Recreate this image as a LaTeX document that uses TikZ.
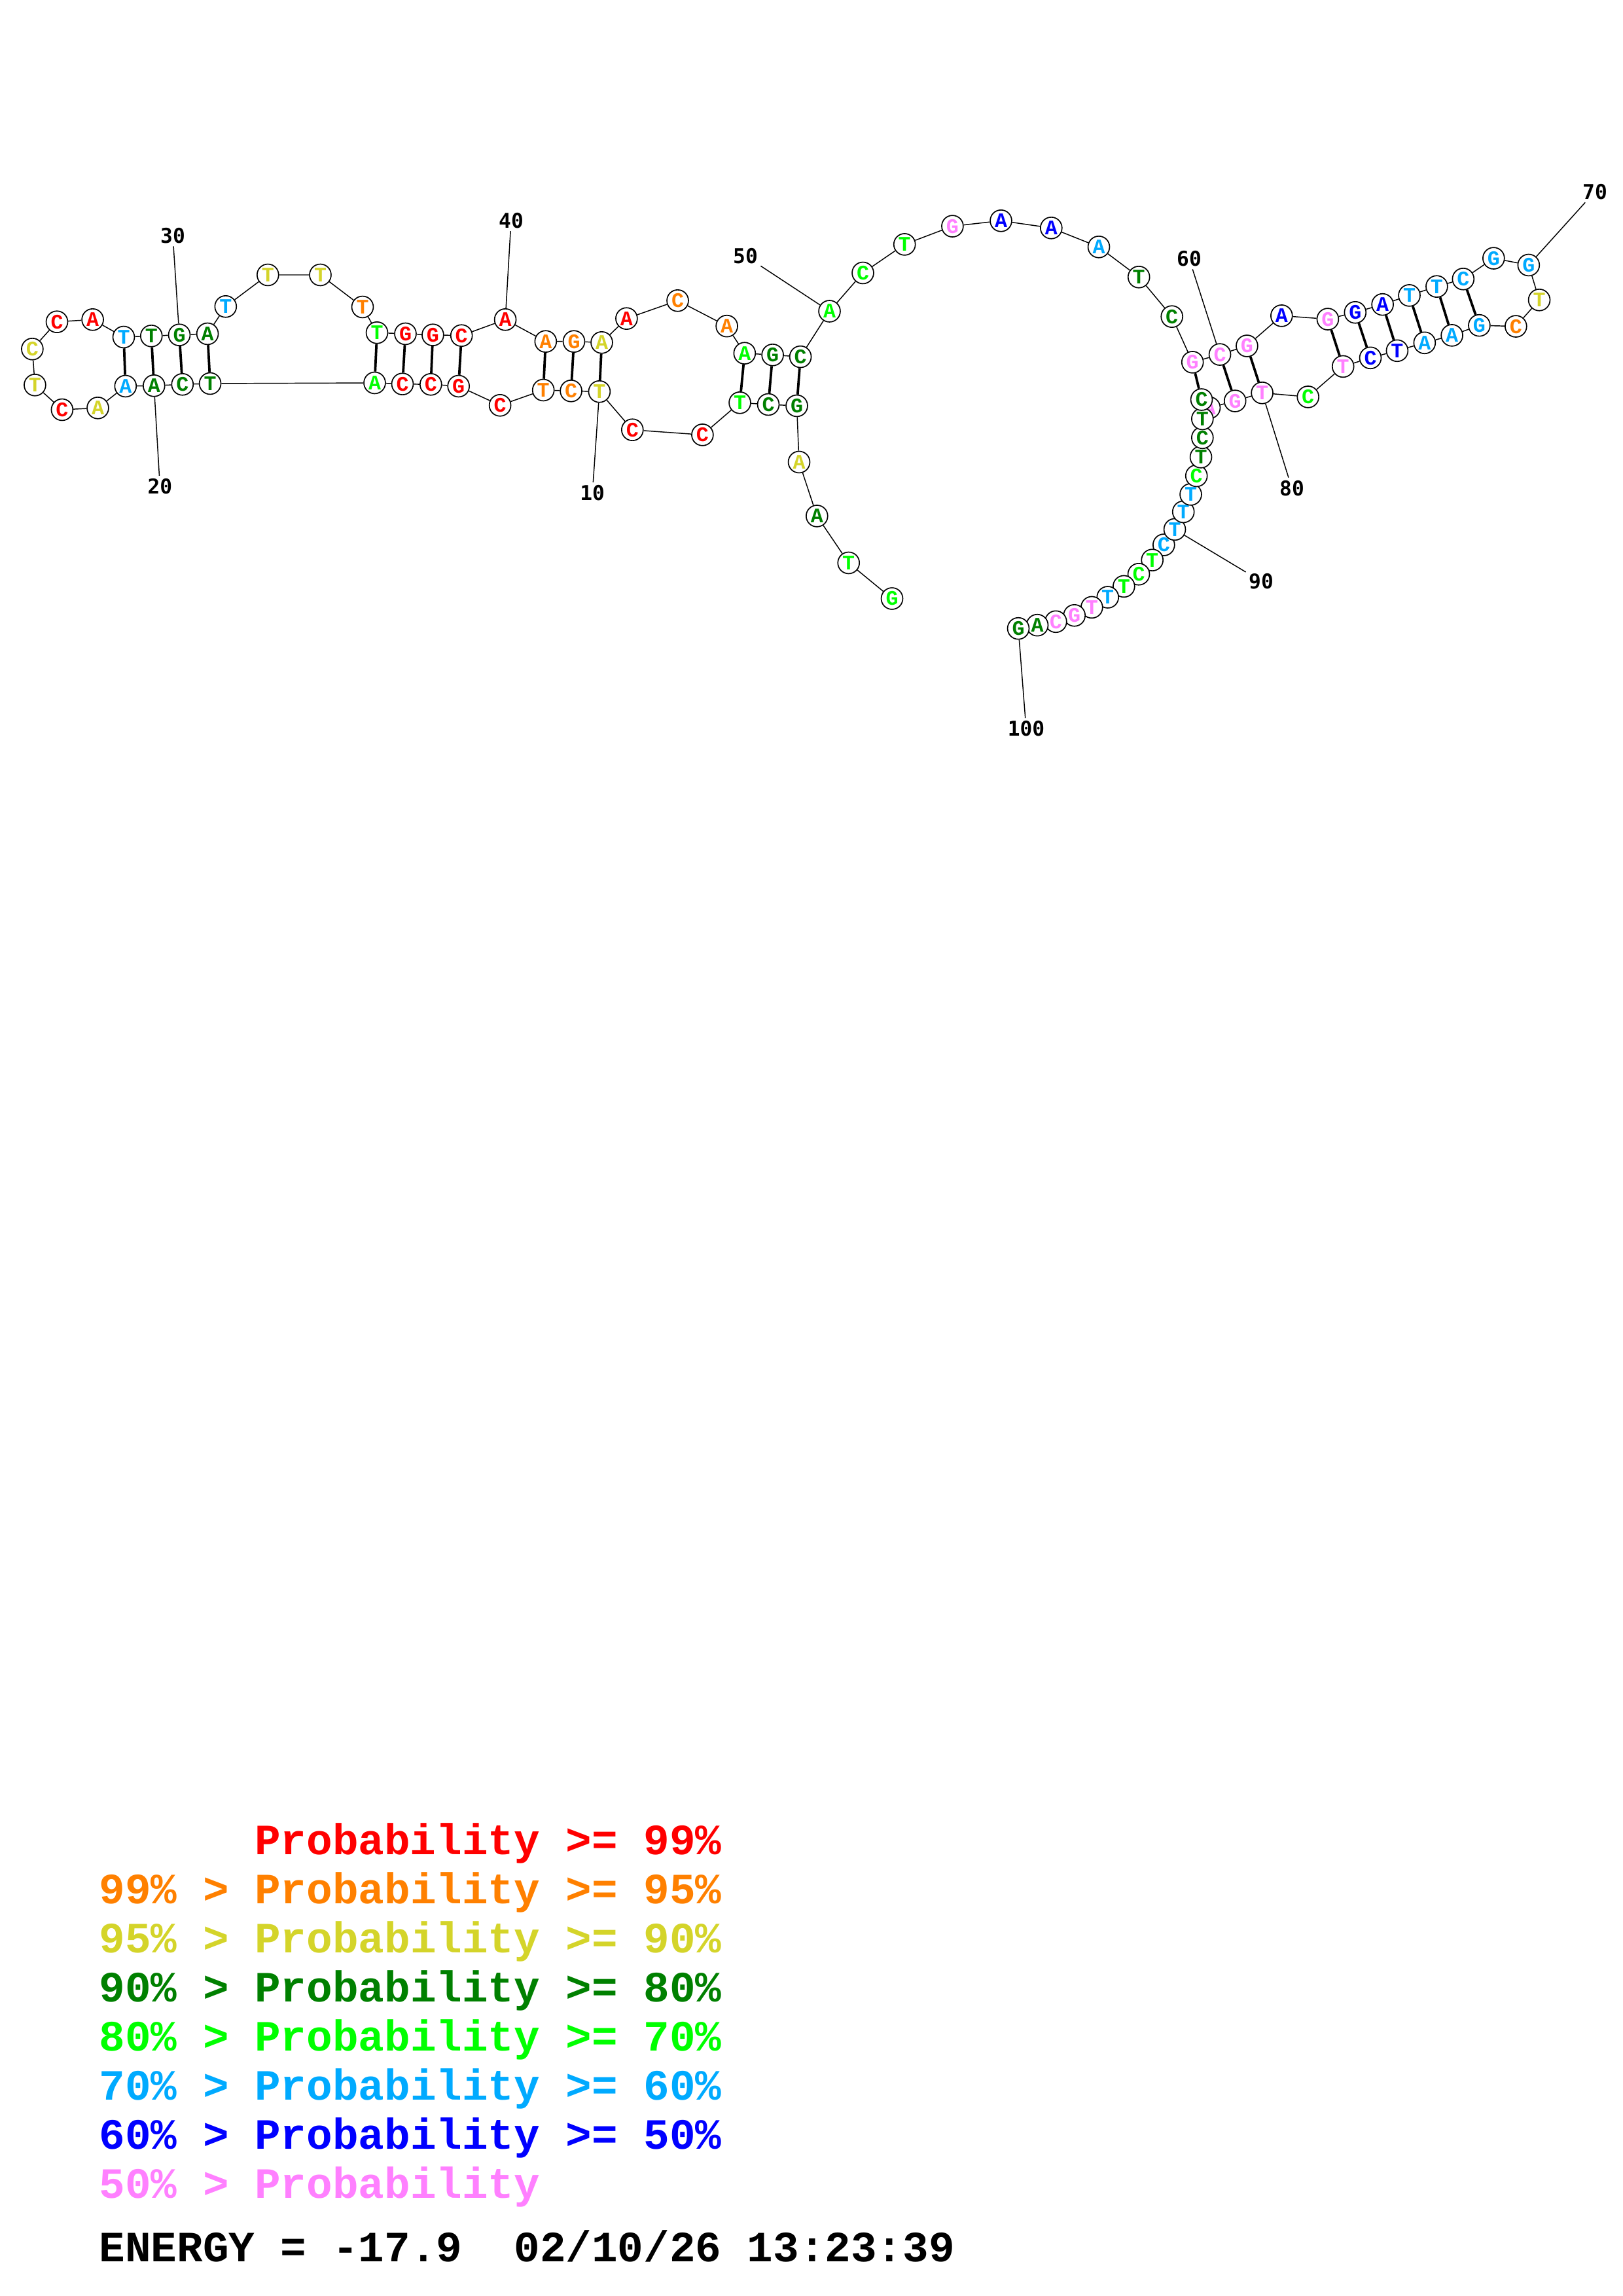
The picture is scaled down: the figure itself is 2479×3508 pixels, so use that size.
\documentclass[tikz,border=0pt]{standalone}
\usepackage{fontspec}
\usepackage{tikz}
\usetikzlibrary{backgrounds}

\newfontfamily\courfont{Liberation Mono}
\newfontfamily\dvmfont{DejaVu Sans Mono}

\definecolor{cred}{RGB}{255,0,0}
\definecolor{corange}{RGB}{255,128,0}
\definecolor{cyellow}{RGB}{212,212,42}
\definecolor{cdkgreen}{RGB}{0,128,0}
\definecolor{cgreen}{RGB}{0,255,0}
\definecolor{csky}{RGB}{0,170,255}
\definecolor{cblue}{RGB}{0,0,255}
\definecolor{cpink}{RGB}{255,128,255}

\begin{document}
\begin{tikzpicture}[x=0.2401pt,y=-0.2401pt,
  base/.style={circle,draw,line width=0.4pt,fill=white,minimum size=7.9pt,inner sep=0pt,
    font=\courfont\bfseries\fontsize{7.6}{7.6}\selectfont},
  p99/.style={base,text=cred},
  p95/.style={base,text=corange},
  p90/.style={base,text=cyellow},
  p80/.style={base,text=cdkgreen},
  p70/.style={base,text=cgreen},
  p60/.style={base,text=csky},
  p50/.style={base,text=cblue},
  plow/.style={base,text=cpink},
  chain/.style={line width=0.35pt},
  pair/.style={line width=0.9pt},
  num/.style={font=\dvmfont\bfseries\fontsize{7.5}{7.5}\selectfont,inner sep=0.9pt},
  key/.style={anchor=base west,font=\courfont\bfseries\fontsize{15.85}{16}\selectfont}]

\path[use as bounding box] (0,0) rectangle (2479,3508);

\node[p70] (b1) at (1363,914.5) {G};
\node[p70] (b2) at (1296.7,860) {T};
\node[p80] (b3) at (1248.3,788.4) {A};
\node[p90] (b4) at (1221,706) {A};
\node[p80] (b5) at (1217.5,620) {G};
\node[p80] (b6) at (1174,618) {C};
\node[p70] (b7) at (1130.5,615.3) {T};
\node[p99] (b8) at (1073.4,664.4) {C};
\node[p99] (b9) at (966.3,656.7) {C};
\node[p90] (b10) at (915.9,598.3) {T};
\node[p95] (b11) at (872.6,597.3) {C};
\node[p95] (b12) at (830.2,596) {T};
\node[p99] (b13) at (764.1,619.3) {C};
\node[p99] (b14) at (700.7,590) {G};
\node[p99] (b15) at (658.3,587.3) {C};
\node[p99] (b16) at (615,586.7) {C};
\node[p70] (b17) at (572.5,585) {A};
\node[p80] (b18) at (321.1,586) {T};
\node[p80] (b19) at (278.8,587.3) {C};
\node[p80] (b20) at (235.3,589.3) {A};
\node[p60] (b21) at (191.8,590) {A};
\node[p90] (b22) at (149.5,623.3) {A};
\node[p99] (b23) at (94.9,626) {C};
\node[p90] (b24) at (53.4,588.3) {T};
\node[p90] (b25) at (49.4,533.3) {C};
\node[p99] (b26) at (87,491.7) {C};
\node[p99] (b27) at (141.6,488.3) {A};
\node[p60] (b28) at (189,515) {T};
\node[p80] (b29) at (231.3,513.3) {T};
\node[p80] (b30) at (274,511.7) {G};
\node[p80] (b31) at (317.1,510) {A};
\node[p60] (b32) at (344.8,468.3) {T};
\node[p90] (b33) at (409.3,420) {T};
\node[p90] (b34) at (489.5,420) {T};
\node[p95] (b35) at (554,469) {T};
\node[p70] (b36) at (576,508.3) {T};
\node[p99] (b37) at (619.5,510) {G};
\node[p99] (b38) at (661.4,511.7) {G};
\node[p99] (b39) at (705.2,512.7) {C};
\node[p99] (b40) at (772.1,488.3) {A};
\node[p95] (b41) at (833.8,521.7) {A};
\node[p95] (b42) at (877,521.7) {G};
\node[p90] (b43) at (919.5,523.3) {A};
\node[p99] (b44) at (957.4,486.7) {A};
\node[p95] (b45) at (1035.5,459.3) {C};
\node[p95] (b46) at (1110.6,498.2) {A};
\node[p70] (b47) at (1137.8,539.7) {A};
\node[p80] (b48) at (1180.6,542.3) {G};
\node[p80] (b49) at (1223.1,545.1) {C};
\node[p70] (b50) at (1267.5,475.5) {A};
\node[p70] (b51) at (1318.5,417) {C};
\node[p70] (b52) at (1382.2,373.4) {T};
\node[plow] (b53) at (1455.4,345.6) {G};
\node[p50] (b54) at (1529.5,337.3) {A};
\node[p50] (b55) at (1606.3,348.3) {A};
\node[p60] (b56) at (1679,377.3) {A};
\node[p80] (b57) at (1740.2,423.3) {T};
\node[p80] (b58) at (1790.7,483.7) {C};
\node[plow] (b59) at (1822.2,553.4) {G};
\node[plow] (b60) at (1864,541.6) {C};
\node[plow] (b61) at (1905.4,528.5) {G};
\node[p50] (b62) at (1958.3,482.4) {A};
\node[plow] (b63) at (2028.9,487.6) {G};
\node[p50] (b64) at (2070.8,477.3) {G};
\node[p50] (b65) at (2112.6,465.2) {A};
\node[p60] (b66) at (2153.5,451.4) {T};
\node[p60] (b67) at (2195.4,437.7) {T};
\node[p60] (b68) at (2235.8,426.3) {C};
\node[p60] (b69) at (2282.3,394.6) {G};
\node[p60] (b70) at (2335.8,405) {G};
\node[p90] (b71) at (2352,458.3) {T};
\node[p95] (b72) at (2316.3,498.6) {C};
\node[p60] (b73) at (2260.4,497.2) {G};
\node[p60] (b74) at (2218.6,512.4) {A};
\node[p60] (b75) at (2176.8,523.8) {A};
\node[p50] (b76) at (2134.9,535.8) {T};
\node[p50] (b77) at (2094,546.8) {C};
\node[plow] (b78) at (2052.2,559.9) {T};
\node[p70] (b79) at (1998.7,606.4) {C};
\node[plow] (b80) at (1928.6,600.3) {T};
\node[plow] (b81) at (1887.2,612.6) {G};
\node[plow] (b82) at (1848,623) {A};
\node[p60] (b91) at (1778.3,832.5) {C};
\node[p70] (b92) at (1760.7,855.7) {T};
\node[p70] (b93) at (1740,877.3) {C};
\node[p70] (b94) at (1717.3,895.9) {T};
\node[p60] (b95) at (1692.7,912.5) {T};
\node[plow] (b96) at (1668.3,927.9) {T};
\node[plow] (b97) at (1641.7,940.3) {G};
\node[plow] (b98) at (1613.3,949.8) {C};
\node[p80] (b99) at (1585,955.2) {A};
\node[p80] (b100) at (1556,960.2) {G};
\node[p60] (b90) at (1795,808.9) {T};
\node[p60] (b89) at (1808.2,782) {T};
\node[p60] (b88) at (1819.5,755.4) {T};
\node[p70] (b87) at (1828.2,727) {C};
\node[p80] (b86) at (1835,698.4) {T};
\node[p80] (b85) at (1837.3,668.8) {C};
\node[p80] (b84) at (1837.3,640) {T};
\node[p80] (b83) at (1836,610.5) {C};

\node[num] (l10) at (905.2,753.3) {10};
\node[num] (l20) at (244.4,743.3) {20};
\node[num] (l30) at (264,360) {30};
\node[num] (l40) at (781,336.7) {40};
\node[num] (l50) at (1139,391) {50};
\node[num] (l60) at (1817,395) {60};
\node[num] (l70) at (2437,293) {70};
\node[num] (l80) at (1974,746) {80};
\node[num] (l90) at (1927,888) {90};
\node[num] (l100) at (1568,1113.6) {100};

\begin{pgfonlayer}{background}
\draw[chain] (b1) -- (b2) -- (b3) -- (b4) -- (b5) -- (b6) -- (b7) -- (b8) -- (b9) -- (b10);
\draw[chain] (b10) -- (b11) -- (b12) -- (b13) -- (b14) -- (b15) -- (b16) -- (b17) -- (b18) -- (b19) -- (b20);
\draw[chain] (b20) -- (b21) -- (b22) -- (b23) -- (b24) -- (b25) -- (b26) -- (b27) -- (b28) -- (b29) -- (b30);
\draw[chain] (b30) -- (b31) -- (b32) -- (b33) -- (b34) -- (b35) -- (b36) -- (b37) -- (b38) -- (b39) -- (b40);
\draw[chain] (b40) -- (b41) -- (b42) -- (b43) -- (b44) -- (b45) -- (b46) -- (b47) -- (b48) -- (b49) -- (b50);
\draw[chain] (b50) -- (b51) -- (b52) -- (b53) -- (b54) -- (b55) -- (b56) -- (b57) -- (b58) -- (b59) -- (b60);
\draw[chain] (b60) -- (b61) -- (b62) -- (b63) -- (b64) -- (b65) -- (b66) -- (b67) -- (b68) -- (b69) -- (b70);
\draw[chain] (b70) -- (b71) -- (b72) -- (b73) -- (b74) -- (b75) -- (b76) -- (b77) -- (b78) -- (b79) -- (b80);
\draw[chain] (b80) -- (b81) -- (b82) -- (b83) -- (b84) -- (b85) -- (b86) -- (b87) -- (b88) -- (b89) -- (b90);
\draw[chain] (b90) -- (b91) -- (b92) -- (b93) -- (b94) -- (b95) -- (b96) -- (b97) -- (b98) -- (b99) -- (b100);

\draw[pair] (b5) -- (b49);
\draw[pair] (b6) -- (b48);
\draw[pair] (b7) -- (b47);
\draw[pair] (b10) -- (b43);
\draw[pair] (b11) -- (b42);
\draw[pair] (b12) -- (b41);
\draw[pair] (b14) -- (b39);
\draw[pair] (b15) -- (b38);
\draw[pair] (b16) -- (b37);
\draw[pair] (b17) -- (b36);
\draw[pair] (b18) -- (b31);
\draw[pair] (b19) -- (b30);
\draw[pair] (b20) -- (b29);
\draw[pair] (b21) -- (b28);
\draw[pair] (b59) -- (b83);
\draw[pair] (b60) -- (b81);
\draw[pair] (b61) -- (b80);
\draw[pair] (b63) -- (b78);
\draw[pair] (b64) -- (b77);
\draw[pair] (b65) -- (b76);
\draw[pair] (b66) -- (b75);
\draw[pair] (b67) -- (b74);
\draw[pair] (b68) -- (b73);

\draw[chain] (b10) -- (l10);
\draw[chain] (b20) -- (l20);
\draw[chain] (b30) -- (l30);
\draw[chain] (b40) -- (l40);
\draw[chain] (b50) -- (l50);
\draw[chain] (b60) -- (l60);
\draw[chain] (b70) -- (l70);
\draw[chain] (b80) -- (l80);
\draw[chain] (b90) -- (l90);
\draw[chain] (b100) -- (l100);
\end{pgfonlayer}

\node[key,text=cred] (k99) at (374.6,2833) {Probability >= 99\%};
\node[key,text=corange] (k95) at (137,2908) {99\% > Probability >= 95\%};
\node[key,text=cyellow] (k90) at (137,2983) {95\% > Probability >= 90\%};
\node[key,text=cdkgreen] (k80) at (137,3058) {90\% > Probability >= 80\%};
\node[key,text=cgreen] (k70) at (137,3133) {80\% > Probability >= 70\%};
\node[key,text=csky] (k60) at (137,3208) {70\% > Probability >= 60\%};
\node[key,text=cblue] (k50) at (137,3283) {60\% > Probability >= 50\%};
\node[key,text=cpink] (klow) at (137,3358) {50\% > Probability};
\node[key] (energy) at (137,3455) {ENERGY = -17.9\ \ 02/10/26 13:23:39};

\end{tikzpicture}
\end{document}
